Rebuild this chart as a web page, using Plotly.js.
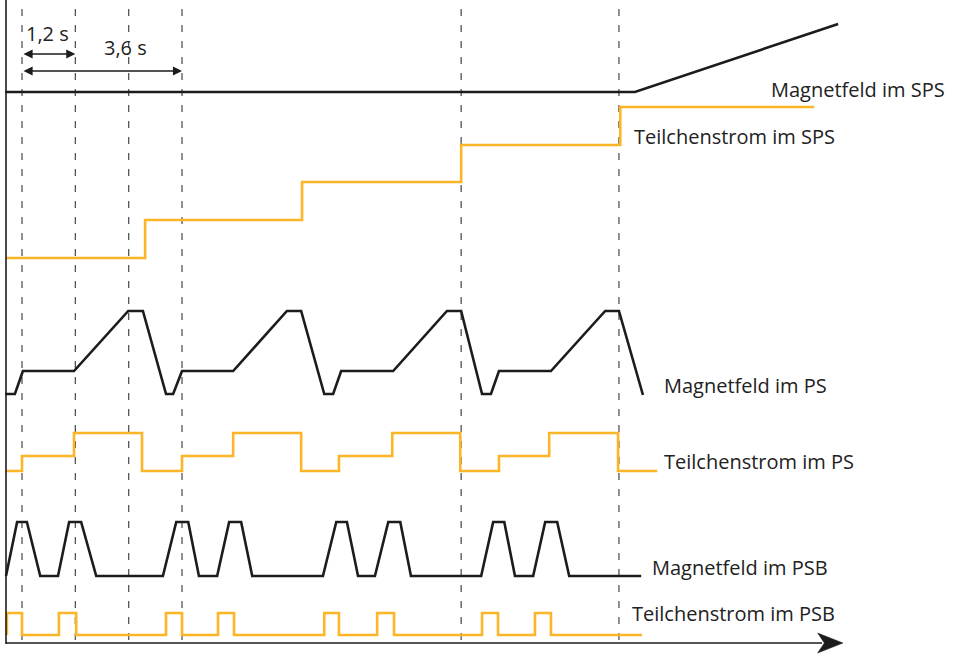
<!DOCTYPE html>
<html>
<head>
<meta charset="utf-8">
<script src="https://cdn.plot.ly/plotly-3.0.1.min.js"></script>
<style>html,body{margin:0;padding:0;background:#fff;}#chart{width:963px;height:656px;}</style>
</head>
<body>
<div id="chart"></div>
<script>
// Time in seconds (0 = first dashed marker), levels in arbitrary units (height above time axis)
const spsFieldT = [-0.38, 13.79, 18.36];
const spsFieldY = [552, 552, 620];

const spsBeamT = [-0.36, 2.77, 6.30, 9.88, 13.46, 17.82];
const spsBeamY = [386, 424, 462, 499, 537, 537];

const psFieldT = [-0.38, -0.16, 0.02, 1.17, 2.39, 2.72, 3.24, 3.40, 3.60, 4.75, 5.96, 6.28, 6.80, 7.00, 7.18, 8.35, 9.56, 9.88, 10.35, 10.55, 10.73, 11.90, 13.12, 13.43, 13.97];
const psFieldY = [250, 250, 273, 273, 333, 333, 250, 250, 273, 273, 333, 333, 250, 250, 273, 273, 333, 333, 250, 250, 273, 273, 333, 333, 249];

const psBeamT = [-0.38, 0, 1.17, 2.70, 3.60, 4.75, 6.28, 7.13, 8.33, 9.86, 10.73, 11.86, 13.41, 14.29];
const psBeamY = [173, 188, 211, 173, 188, 211, 173, 188, 211, 173, 188, 211, 173, 173];

const psbFieldT = [-0.36, -0.11, 0.11, 0.41, 0.81, 1.06, 1.33, 1.67, 3.17, 3.47, 3.74, 3.98, 4.39, 4.66, 4.93, 5.18, 6.77, 7.07, 7.31, 7.56, 7.94, 8.24, 8.51, 8.75, 10.33, 10.60, 10.85, 11.09, 11.50, 11.77, 12.04, 12.31, 13.93];
const psbFieldY = [68, 122, 122, 68, 68, 122, 122, 68, 68, 122, 122, 68, 68, 122, 122, 68, 68, 122, 122, 68, 68, 122, 122, 68, 68, 122, 122, 68, 68, 122, 122, 68, 68];

const psbBeamT = [-0.34, -0.34, 0, 0.83, 1.22, 3.24, 3.60, 4.41, 4.77, 6.80, 7.13, 7.99, 8.37, 10.35, 10.71, 11.54, 11.90, 13.95];
const psbBeamY = [9, 31, 9, 31, 9, 31, 9, 31, 9, 31, 9, 31, 9, 31, 9, 31, 9, 9];

const markerTimes = [0, 1.2, 2.4, 3.6, 9.88, 13.43];

const labels = ["Magnetfeld im SPS", "Teilchenstrom im SPS", "Magnetfeld im PS", "Teilchenstrom im PS", "Magnetfeld im PSB", "Teilchenstrom im PSB"];
const labelT = [16.81, 13.72, 14.40, 14.40, 14.13, 13.68];
const labelY = [555, 508, 259, 183, 77, 31];

const intervalLabels = ["1,2 s", "3,6 s"];
const intervalEnd = [1.2, 3.6];
const intervalArrowY = [590, 573];
const intervalTextT = [0.05, 1.81];
const intervalTextY = [611, 597];

const BLACK = '#1c1c1c';
const ORANGE = '#fbb526';
const FONT = '"Open Sans", sans-serif';

const traces = [
  {x: spsFieldT, y: spsFieldY, mode: 'lines', line: {color: BLACK, width: 2.6}},
  {x: spsBeamT, y: spsBeamY, mode: 'lines', line: {color: ORANGE, width: 2.6, shape: 'hv'}},
  {x: psFieldT, y: psFieldY, mode: 'lines', line: {color: BLACK, width: 2.6}},
  {x: psBeamT, y: psBeamY, mode: 'lines', line: {color: ORANGE, width: 2.6, shape: 'hv'}},
  {x: psbFieldT, y: psbFieldY, mode: 'lines', line: {color: BLACK, width: 2.6}},
  {x: psbBeamT, y: psbBeamY, mode: 'lines', line: {color: ORANGE, width: 2.6, shape: 'hv'}}
].map(t => Object.assign(t, {hoverinfo: 'skip', showlegend: false}));

const shapes = [];
markerTimes.forEach(t => {
  shapes.push({type: 'line', xref: 'x', yref: 'y', x0: t, x1: t, y0: 4, y1: 644,
    line: {color: '#555', width: 1.3, dash: '7px,9px'}, layer: 'below'});
});
// axes
shapes.push({type: 'line', xref: 'x', yref: 'y', x0: -0.36, x1: -0.36, y0: 0, y1: 660, line: {color: BLACK, width: 1.6}});
shapes.push({type: 'line', xref: 'x', yref: 'y', x0: -0.36, x1: 18.0, y0: 1, y1: 1, line: {color: BLACK, width: 1.6}});
shapes.push({type: 'path', xref: 'x', yref: 'y', path: 'M 18.47 1 L 17.90 11 L 18.05 1 L 17.90 -9 Z',
  fillcolor: BLACK, line: {color: BLACK, width: 0.5}});

const annotations = [];
labels.forEach((s, i) => annotations.push({x: labelT[i], y: labelY[i], xref: 'x', yref: 'y', text: s,
  showarrow: false, xanchor: 'left', yanchor: 'middle', font: {family: FONT, size: 20, color: '#222'}}));
intervalLabels.forEach((s, i) => {
  annotations.push({x: intervalTextT[i], y: intervalTextY[i], xref: 'x', yref: 'y', text: s,
    showarrow: false, xanchor: 'left', yanchor: 'middle', font: {family: FONT, size: 20, color: '#222'}});
  annotations.push({x: intervalEnd[i], y: intervalArrowY[i], ax: 0, ay: intervalArrowY[i], xref: 'x', yref: 'y',
    axref: 'x', ayref: 'y', text: '', showarrow: true, arrowside: 'end+start', arrowhead: 2,
    arrowsize: 1.4, arrowwidth: 1.3, arrowcolor: BLACK, standoff: 0, startstandoff: 0});
});

const layout = {
  width: 963, height: 656,
  margin: {l: 0, r: 0, t: 0, b: 0},
  paper_bgcolor: '#fff', plot_bgcolor: '#fff',
  xaxis: {range: [-0.495, 21.17], visible: false, fixedrange: true},
  yaxis: {range: [-12, 644], visible: false, fixedrange: true},
  shapes: shapes,
  annotations: annotations,
  showlegend: false
};

Plotly.newPlot('chart', traces, layout, {displayModeBar: false, staticPlot: true});
</script>
</body>
</html>
